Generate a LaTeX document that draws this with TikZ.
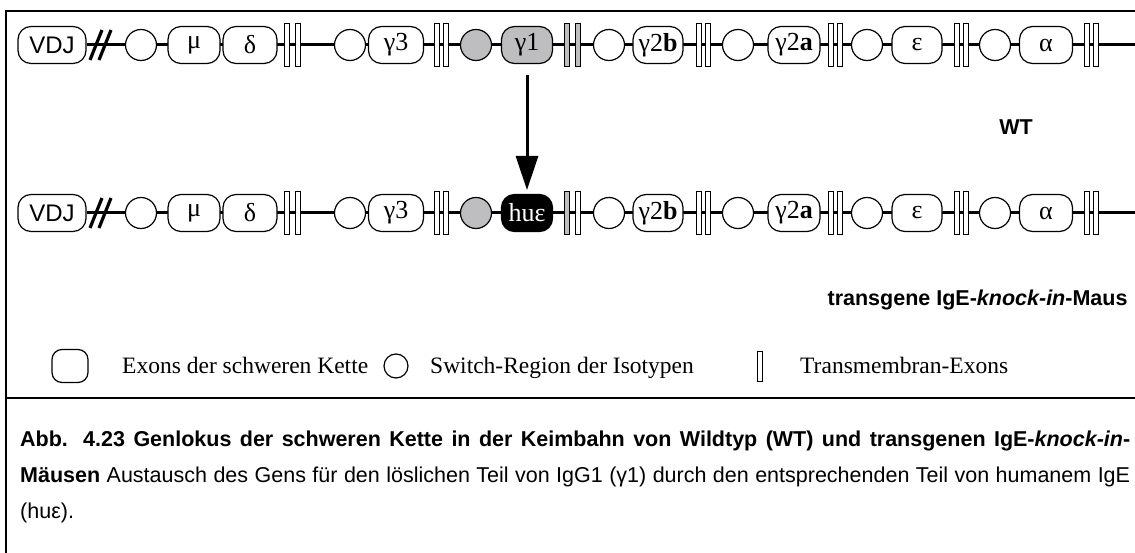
\documentclass[tikz,border=0pt]{standalone}
\usepackage{fontspec}
\setmainfont{Liberation Serif}
\newfontfamily\arial{Liberation Sans}
\usetikzlibrary{arrows.meta,backgrounds}
\definecolor{exgray}{RGB}{190,190,192}
\tikzset{
  exon/.style={draw, line width=1.2pt, rounded corners=13pt, minimum height=37pt, inner sep=0pt, fill=white, font=\fontsize{26}{26}\selectfont},
  sw/.style={circle, draw, line width=1.2pt, minimum size=31pt, inner sep=0pt, fill=white},
  tmb/.style={draw, line width=1.2pt, minimum width=5pt, minimum height=43pt, inner sep=0pt, fill=white},
  backbone/.style={line width=3pt},
  slash/.style={line width=3.2pt},
  legtext/.style={anchor=base west, inner sep=0pt, font=\fontsize{23.5}{23.5}\selectfont},
  captext/.style={anchor=west, inner sep=0pt, font=\arial\fontsize{21.5}{21.5}\selectfont},
  lbl/.style={font=\arial\bfseries\fontsize{21.5}{21.5}\selectfont},
  frame/.style={line width=2.5pt}
}
\newcommand\generow[5]{%
  \node[exon, minimum width=68pt, font=\arial\fontsize{24}{24}\selectfont] (#2vdj) at (52,#1) {VDJ};
  \node[sw] (#2s0) at (141,#1) {};
  \node[exon, minimum width=52pt] (#2mu) at (194,#1) {μ};
  \node[exon, minimum width=54pt] (#2de) at (250,#1) {δ};
  \node[tmb] (#2ta1) at (287,#1) {};
  \node[tmb] (#2ta2) at (298,#1) {};
  \node[sw] (#2s1) at (350,#1) {};
  \node[exon, minimum width=55pt] (#2g3) at (396,#1) {γ3};
  \node[tmb] (#2tb1) at (437,#1) {};
  \node[tmb] (#2tb2) at (446,#1) {};
  \node[sw, fill=exgray] (#2s2) at (476,#1) {};
  \node[exon, minimum width=51pt, #3] (#2g1) at (527,#1) {#4};
  \node[tmb, fill=exgray] (#2tc1) at (567,#1) {};
  \node[tmb, #5] (#2tc2) at (578,#1) {};
  \node[sw] (#2s3) at (609,#1) {};
  \node[exon, minimum width=50pt] (#2g2b) at (658,#1) {γ2\textbf{b}};
  \node[tmb] (#2td1) at (699,#1) {};
  \node[tmb] (#2td2) at (708,#1) {};
  \node[sw] (#2s4) at (738,#1) {};
  \node[exon, minimum width=52pt] (#2g2a) at (794,#1) {γ2\textbf{a}};
  \node[tmb] (#2te1) at (831,#1) {};
  \node[tmb] (#2te2) at (840,#1) {};
  \node[sw] (#2s5) at (867,#1) {};
  \node[exon, minimum width=50pt] (#2ep) at (917,#1) {ε};
  \node[tmb] (#2tf1) at (957,#1) {};
  \node[tmb] (#2tf2) at (966,#1) {};
  \node[sw] (#2s6) at (995,#1) {};
  \node[exon, minimum width=53pt] (#2al) at (1046,#1) {α};
  \node[tmb] (#2tg1) at (1087,#1) {};
  \node[tmb] (#2tg2) at (1096,#1) {};
  \coordinate (#2end) at (1135,#1);
  \begin{pgfonlayer}{background}
    \draw[backbone] (#2vdj.east) -- (#2end);
  \end{pgfonlayer}
  \draw[slash] (90,#1+15) -- (102,#1-15);
  \draw[slash] (99,#1+15) -- (111,#1-15);
}
\begin{document}
\begin{tikzpicture}[x=1pt,y=-1pt]
\useasboundingbox (0,0) rectangle (1135,553);
\begin{pgfonlayer}{background}
\fill[white] (0,0) rectangle (1135,553);
\end{pgfonlayer}
% frame
\draw[frame] (6,553) -- (6,11) -- (1135,11);
\draw[frame] (6,398) -- (1135,398);
% rows
\generow{45}{a}{fill=exgray}{γ1}{fill=exgray}
\generow{213}{b}{fill=black, text=white}{huε}{fill=white}
% arrow
\draw[line width=3pt, -{Triangle[length=34pt, width=22pt]}] (ag1.south |- 0,75) coordinate (arrs) -- (bg1.north |- 0,190) coordinate (arre);
% labels
\node[lbl] (wt) at (1016,127) {WT};
\node[lbl, anchor=east] (tg) at (1131,300) {transgene IgE-\textit{knock-in}-Maus};
% legend
\node[exon, minimum width=36pt, minimum height=33pt, rounded corners=10pt] (lex) at (70,366) {};
\node[legtext] (lext) at (122,373) {Exons der schweren Kette};
\node[sw, minimum size=24pt] (lsw) at (396,366) {};
\node[legtext] (lswt) at (430,373) {Switch-Region der Isotypen};
\node[tmb, minimum height=30pt, line width=1pt] (ltm) at (760,366) {};
\node[legtext] (ltmt) at (800,373) {Transmembran-Exons};
% caption
\node[captext] (cap1) at (20,441) {\makebox[1110pt][s]{\bfseries Abb. 4.23 Genlokus der schweren Kette in der Keimbahn von Wildtyp (WT) und transgenen IgE-\textit{knock-in}-}};
\node[captext] (cap2) at (20,477) {\makebox[1110pt][s]{\textbf{Mäusen} Austausch des Gens für den löslichen Teil von IgG1 (γ1) durch den entsprechenden Teil von humanem IgE}};
\node[captext] (cap3) at (20,513) {(huε).};
\end{tikzpicture}
\end{document}
